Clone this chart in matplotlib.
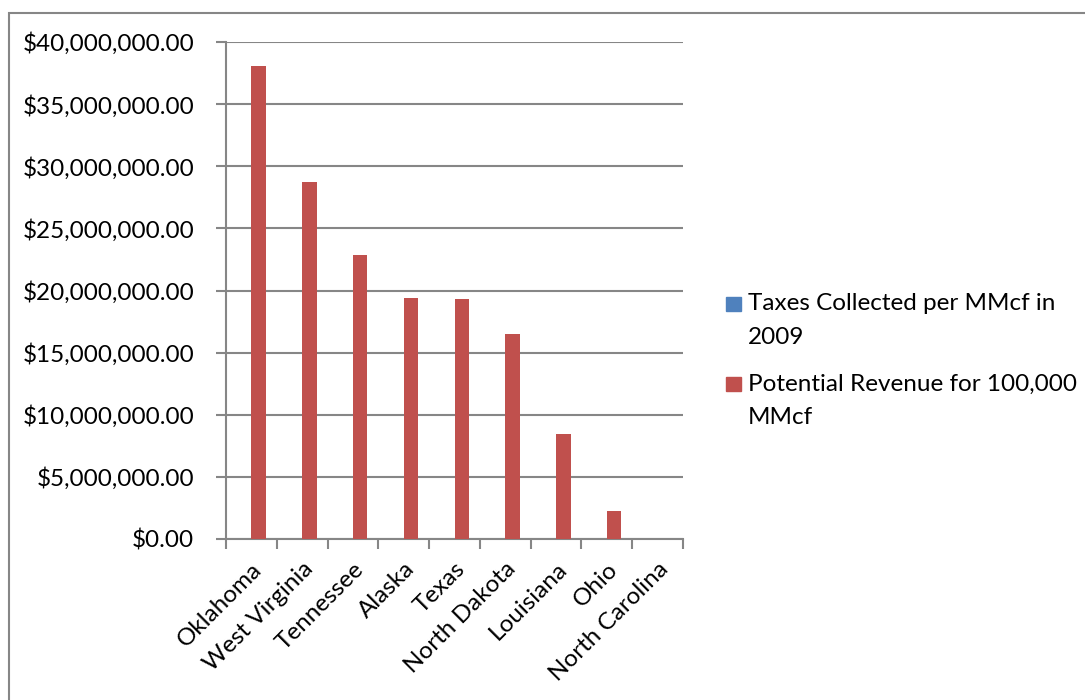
"""Severance tax chart: taxes per MMcf vs potential revenue for 100,000 MMcf"""
import matplotlib
matplotlib.use("Agg")
import matplotlib.pyplot as plt
from matplotlib.patches import Rectangle
from matplotlib.ticker import FuncFormatter, MultipleLocator
import numpy as np

STATES = ["Oklahoma", "West Virginia", "Tennessee", "Alaska", "Texas",
          "North Dakota", "Louisiana", "Ohio", "North Carolina"]
TAXES_PER_MMCF = [380.8, 287.0, 228.5, 194.1, 192.8, 165.0, 84.2, 22.8, 0.0]
POTENTIAL_REVENUE = [38080000, 28700000, 22850000, 19410000, 19280000,
                     16500000, 8420000, 2280000, 0]
SERIES_NAMES = ["Taxes Collected per MMcf in\n2009", "Potential Revenue for 100,000\nMMcf"]
COLORS = ["#4F81BD", "#C0504D"]
GRID = "#868686"
FS = 17.5

plt.rcParams["font.family"] = ["Lato", "DejaVu Sans"]

fig = plt.figure(figsize=(10.85, 7.0), dpi=100)
ax = fig.add_axes([226 / 1085, 161 / 700, 457 / 1085, 497 / 700])

x = np.arange(len(STATES))
w = 1 / 3.5
ax.bar(x - w / 2, TAXES_PER_MMCF, width=w, color=COLORS[0], zorder=3)
ax.bar(x + w / 2, POTENTIAL_REVENUE, width=w, color=COLORS[1], zorder=3)

ax.set_xlim(-0.5, len(STATES) - 0.5)
ax.set_ylim(0, 40000000)
ax.yaxis.set_major_locator(MultipleLocator(5000000))
ax.yaxis.set_major_formatter(FuncFormatter(lambda v, _: f"${v:,.2f}"))
ax.grid(axis="y", color=GRID, linewidth=1.5, zorder=0)

for s in ["top", "right"]:
    ax.spines[s].set_visible(False)
for s in ["left", "bottom"]:
    ax.spines[s].set_color(GRID)
    ax.spines[s].set_linewidth(1.5)

ax.tick_params(axis="y", length=7, width=1.5, color=GRID, labelsize=FS, pad=16)
ax.set_xticks(x)
ax.set_xticklabels(STATES, rotation=45, ha="right", rotation_mode="anchor", fontsize=FS)
ax.tick_params(axis="x", which="major", length=0, pad=14)
ax.set_xticks(np.arange(-0.5, len(STATES)), minor=True)
ax.tick_params(axis="x", which="minor", length=7, width=1.5, color=GRID)

# legend drawn by hand so markers sit on the first text line
for i, (name, col) in enumerate(zip(SERIES_NAMES, COLORS)):
    yc = 304 + i * 80
    fig.patches.append(Rectangle((726 / 1085, 1 - (yc + 7) / 700), 15 / 1085, 14 / 700,
                                 transform=fig.transFigure, color=col))
    for j, line in enumerate(name.split("\n")):
        fig.text(748 / 1085, 1 - (yc + j * 33) / 700, line, fontsize=FS, va="center")

# outer chart frame
fig.patches.append(Rectangle((9 / 1085, -0.05), 1.1, 1 - 13 / 700 + 0.05,
                             transform=fig.transFigure, fill=False,
                             edgecolor=GRID, linewidth=1.5, clip_on=False))

fig.savefig("out.png", dpi=100)
